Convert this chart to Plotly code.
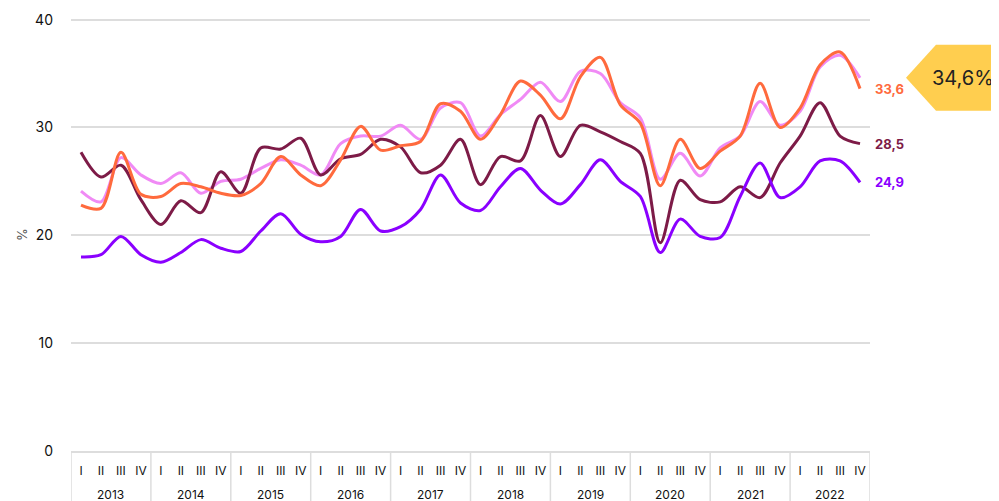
import plotly.graph_objects as go

years = [str(y) for y in range(2013, 2023)]
quarters = ["I", "II", "III", "IV"]

pink = [24.1, 23.1, 27.2, 25.6, 24.8, 25.8, 23.9, 25.0, 25.2, 26.2,
        27.0, 26.5, 25.6, 28.5, 29.2, 29.2, 30.2, 28.9, 31.8, 32.3,
        29.2, 31.2, 32.6, 34.2, 32.4, 35.2, 35.0, 32.3, 30.9, 25.2,
        27.6, 25.5, 28.1, 29.2, 32.4, 30.2, 31.5, 35.6, 36.7, 34.6]
orange = [22.8, 22.5, 27.7, 23.8, 23.6, 24.8, 24.5, 23.9, 23.7, 24.8,
          27.3, 25.6, 24.6, 27.0, 30.1, 27.9, 28.3, 28.7, 32.2, 31.5,
          28.9, 31.2, 34.3, 33.0, 30.8, 34.7, 36.5, 32.1, 30.4, 24.6,
          28.9, 26.2, 27.8, 29.2, 34.1, 30.0, 31.8, 35.8, 37.0, 33.6]
maroon = [27.7, 25.4, 26.5, 23.3, 21.0, 23.2, 22.1, 25.9, 23.9, 28.1,
          28.0, 29.0, 25.6, 27.1, 27.5, 28.9, 28.2, 25.8, 26.5, 28.9,
          24.7, 27.3, 26.9, 31.1, 27.3, 30.2, 29.6, 28.7, 27.6, 19.3,
          25.1, 23.3, 23.1, 24.5, 23.5, 26.7, 29.2, 32.3, 29.2, 28.5]
purple = [18.0, 18.2, 19.9, 18.2, 17.5, 18.4, 19.6, 18.8, 18.5, 20.4,
          22.0, 20.1, 19.4, 19.9, 22.4, 20.4, 20.8, 22.4, 25.6, 23.0,
          22.3, 24.5, 26.2, 24.2, 22.9, 24.7, 27.0, 25.0, 23.6, 18.4,
          21.5, 19.9, 19.8, 23.6, 26.7, 23.5, 24.5, 26.9, 26.9, 24.9]

nq = len(quarters)
xs = list(range(len(years) * nq))
quarter_text = [q for _ in years for q in quarters]

series = [
    ("pink", pink, "#f08af5"),
    ("maroon", maroon, "#7d1b47"),
    ("orange", orange, "#ff6a3d"),
    ("purple", purple, "#8a00ff"),
]

fig = go.Figure()
for name, vals, col in series:
    fig.add_trace(go.Scatter(
        x=xs, y=vals, mode="lines", name=name,
        line=dict(color=col, width=3, shape="spline", smoothing=0.9),
        hoverinfo="skip",
    ))

# year row + dividers under the quarter labels
for i, yr in enumerate(years):
    fig.add_annotation(
        xref="x", yref="paper", x=i * nq + (nq - 1) / 2, y=0,
        yanchor="middle", yshift=-43, text=yr, showarrow=False,
        font=dict(size=12, color="#111111"),
    )
for i in range(len(years) + 1):
    fig.add_shape(
        type="line", xref="x", yref="paper", ysizemode="pixel", yanchor=0,
        x0=i * nq - 0.5, x1=i * nq - 0.5, y0=0, y1=-60,
        line=dict(color="#dddddd", width=1.5),
    )

# end labels
for name, vals, col in series:
    if name == "pink":
        continue
    fig.add_annotation(
        xref="paper", x=1, y=vals[-1], xanchor="left", xshift=3,
        text="<b>" + f"{vals[-1]:.1f}".replace(".", ",") + "</b>",
        showarrow=False, font=dict(size=13, color=col),
    )

# yellow arrow badge for the pink series
fig.add_shape(
    type="path", xref="paper", yref="y",
    xsizemode="pixel", ysizemode="pixel", xanchor=1, yanchor=pink[-1],
    path="M36,0 L66,33 L140,33 L140,-33 L66,-33 Z",
    fillcolor="#ffce4f", line=dict(width=0),
)
fig.add_annotation(
    xref="paper", x=1, y=pink[-1], xanchor="right", xshift=126,
    text=f"{pink[-1]:.1f}".replace(".", ",") + "%",
    showarrow=False, font=dict(size=20, color="#222222"),
)

fig.update_layout(
    width=991, height=493,
    margin=dict(l=63, r=129, t=10, b=50),
    plot_bgcolor="white", paper_bgcolor="white",
    showlegend=False,
    font=dict(family="Inter", color="#111111"),
)
fig.update_xaxes(
    range=[-0.5, len(xs) - 0.5], tickvals=xs, ticktext=quarter_text,
    showgrid=False, zeroline=False, automargin=False,
    showline=True, linecolor="#dddddd", linewidth=1.5,
    tickfont=dict(size=12, color="#111111"), ticks="",
    ticklabelstandoff=8,
)
fig.update_yaxes(
    range=[0, 40.15], tickvals=[0, 10, 20, 30, 40],
    showgrid=True, gridcolor="#dddddd", gridwidth=1.5, zeroline=False,
    automargin=False,
    tickfont=dict(size=14, color="#111111"), ticklabelstandoff=17,
    title=dict(text="%", font=dict(size=13, color="#555555"), standoff=4),
)

fig.write_html("out.html")
